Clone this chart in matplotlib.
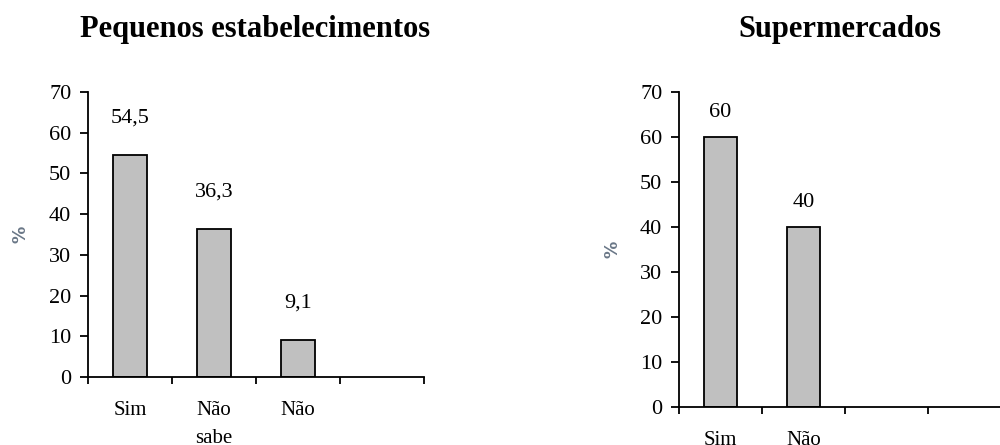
import numpy as np
import matplotlib.pyplot as plt

# data
peq_labels = ['Sim', 'Não\nsabe', 'Não', '']
peq_values = [54.5, 36.3, 9.1]
peq_text = ['54,5', '36,3', '9,1']

sup_labels = ['Sim', 'Não', '', '']
sup_values = [60, 40]
sup_text = ['60', '40']

yticks = [0, 10, 20, 30, 40, 50, 60, 70]

plt.rcParams['font.family'] = ['Liberation Serif', 'DejaVu Serif']

fig = plt.figure(figsize=(10, 4.45), dpi=100)
ax1 = fig.add_axes([0.088, 0.1528, 0.336, 0.6404])
ax2 = fig.add_axes([0.679, 0.0854, 0.332, 0.7079])


def draw(ax, labels, values, texts, offset):
    n = len(labels)
    x = np.arange(len(values)) + 0.5
    ax.bar(x, values, width=0.4, color='#c0c0c0', edgecolor='black', linewidth=1.3)
    for xi, v, t in zip(x, values, texts):
        ax.annotate(t, (xi, v), xytext=(0, offset), textcoords='offset points',
                    ha='center', va='bottom', fontsize=16)
    ax.set_xlim(0, n)
    ax.set_ylim(0, 70)
    ax.set_yticks(yticks)
    ax.set_xticks(np.arange(n + 1))
    ax.set_xticklabels([])
    ax.set_xticks(np.arange(n) + 0.5, minor=True)
    ax.set_xticklabels(labels, minor=True, fontsize=15, linespacing=1.7, va='top')
    ax.tick_params(axis='x', which='minor', length=0, pad=17)
    ax.tick_params(axis='x', which='major', length=5, width=1.3, direction='out')
    ax.tick_params(axis='y', length=6, width=1.3, pad=6, labelsize=16)
    for s in ['top', 'right']:
        ax.spines[s].set_visible(False)
    for s in ['left', 'bottom']:
        ax.spines[s].set_linewidth(1.3)
    ax.set_ylabel('%', family='DejaVu Sans', fontweight='bold', color='#6a7787',
                  fontsize=12.5, va='center')
    ax.yaxis.set_label_coords(-0.2, 0.5)


draw(ax1, peq_labels, peq_values, peq_text, 20)
draw(ax2, sup_labels, sup_values, sup_text, 11)

fig.text(0.255, 0.933, 'Pequenos estabelecimentos', ha='center', va='center',
         fontsize=22, fontweight='bold')
fig.text(0.840, 0.933, 'Supermercados', ha='center', va='center',
         fontsize=22, fontweight='bold')

fig.savefig('out.png', dpi=100)
